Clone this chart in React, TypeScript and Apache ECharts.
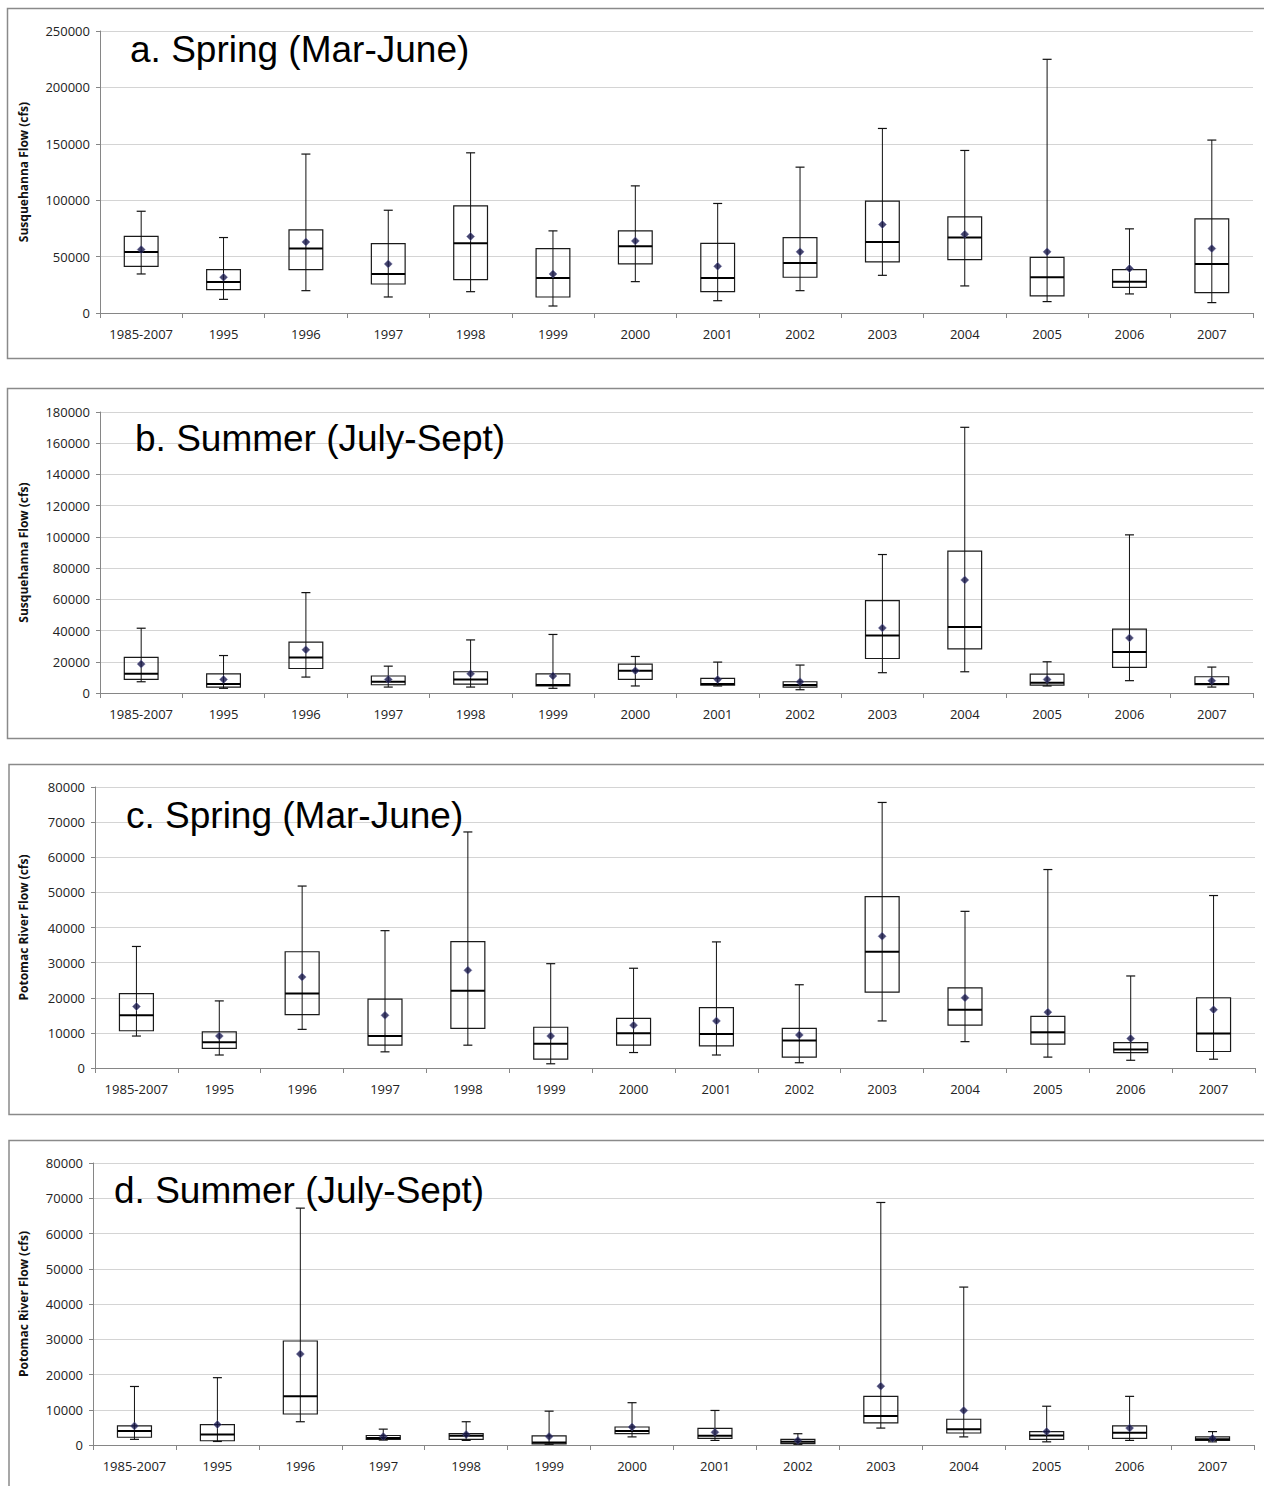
import React, { useEffect, useRef } from "react";
import * as echarts from "echarts";

const categories = ["1985-2007", "1995", "1996", "1997", "1998", "1999", "2000", "2001", "2002", "2003", "2004", "2005", "2006", "2007"];

// a. Susquehanna spring
const aMin = [34600, 12100, 19800, 14200, 18900, 6200, 27800, 10900, 19800, 33400, 24000, 10100, 16900, 9200];
const aQ1 = [41400, 20700, 38500, 25700, 29600, 14200, 43500, 18900, 31700, 45300, 47300, 15100, 22800, 18000];
const aMed = [54100, 27500, 57100, 34600, 61800, 31100, 59200, 31100, 44400, 63000, 66900, 31700, 27800, 43500];
const aQ3 = [68000, 38500, 73700, 61500, 95000, 57100, 72800, 61800, 66900, 99100, 85200, 49400, 38500, 83400];
const aMax = [90200, 66900, 140900, 91100, 142000, 72800, 112700, 97100, 129300, 163600, 144100, 224900, 74600, 153300];
const aMean = [56200, 31700, 63000, 43500, 67800, 34600, 63900, 41400, 54200, 78400, 69800, 54200, 39400, 57100];

// b. Susquehanna summer
const bMin = [7200, 3000, 10200, 3800, 3800, 3000, 4500, 4500, 2100, 13000, 13600, 4500, 7900, 3800];
const bQ1 = [8700, 3800, 15700, 5300, 5700, 4500, 8700, 5100, 3800, 22100, 28300, 5100, 16400, 5300];
const bMed = [12300, 5700, 22800, 7200, 8700, 5100, 14300, 5700, 5100, 36800, 42300, 6600, 26200, 5700];
const bQ3 = [22800, 12300, 32600, 10900, 13600, 12300, 18500, 9400, 7200, 59200, 90900, 12100, 40900, 10400];
const bMax = [41500, 24000, 64300, 17200, 34000, 37500, 23400, 19800, 17900, 88700, 170200, 20000, 101300, 16600];
const bMean = [18500, 8700, 27700, 8700, 12300, 10900, 14300, 8700, 7200, 41700, 72400, 8700, 35300, 7900];

// c. Potomac spring
const cMin = [9100, 3700, 11000, 4600, 6500, 1200, 4400, 3700, 1500, 13400, 7500, 3100, 2200, 2500];
const cQ1 = [10600, 5600, 15200, 6500, 11300, 2500, 6500, 6300, 3100, 21600, 12200, 6800, 4400, 4700];
const cMed = [15000, 7300, 21200, 9100, 22000, 6900, 9900, 9700, 7800, 33100, 16600, 10200, 5300, 9800];
const cQ3 = [21200, 10300, 33100, 19600, 36000, 11600, 14100, 17200, 11300, 48800, 22800, 14700, 7200, 20000];
const cMax = [34600, 19100, 51800, 39100, 67200, 29700, 28400, 35900, 23700, 75600, 44600, 56500, 26200, 49100];
const cMean = [17500, 9100, 25900, 15000, 27800, 9100, 12200, 13400, 9400, 37500, 20000, 15900, 8400, 16600];

// d. Potomac summer
const dMin = [1600, 1000, 6600, 1400, 1300, 200, 2300, 1300, 200, 4800, 2300, 900, 1300, 900];
const dQ1 = [2200, 1200, 8800, 1600, 1600, 300, 3200, 1900, 400, 6300, 3400, 1600, 1900, 1300];
const dMed = [4000, 3000, 13800, 2000, 2600, 700, 4000, 2600, 900, 8200, 4500, 2700, 3500, 1600];
const dQ3 = [5400, 5800, 29500, 2700, 3200, 2600, 5100, 4700, 1600, 13800, 7300, 3800, 5400, 2300];
const dMax = [16600, 19100, 67200, 4500, 6600, 9600, 12000, 9800, 3200, 68800, 44800, 11000, 13800, 3800];
const dMean = [5400, 5800, 25800, 2400, 3000, 2400, 5100, 3600, 1300, 16700, 9800, 3800, 4800, 1900];

const titles = ["a. Spring (Mar-June)", "b. Summer (July-Sept)", "c. Spring (Mar-June)", "d. Summer (July-Sept)"];
const yNames = ["Susquehanna Flow (cfs)", "Susquehanna Flow (cfs)", "Potomac River Flow (cfs)", "Potomac River Flow (cfs)"];
const yMaxes = [250000, 180000, 80000, 80000];
const yIntervals = [50000, 20000, 10000, 10000];

const panels = [
  { min: aMin, q1: aQ1, med: aMed, q3: aQ3, max: aMax, mean: aMean },
  { min: bMin, q1: bQ1, med: bMed, q3: bQ3, max: bMax, mean: bMean },
  { min: cMin, q1: cQ1, med: cMed, q3: cQ3, max: cMax, mean: cMean },
  { min: dMin, q1: dQ1, med: dMed, q3: dQ3, max: dMax, mean: dMean },
];

// layout
const grids = [
  { left: 100, top: 31, width: 1153, height: 282 },
  { left: 100, top: 412, width: 1153, height: 281 },
  { left: 95, top: 787, width: 1160, height: 281 },
  { left: 93, top: 1163, width: 1161, height: 282 },
];
const frames = [
  { x: 7.5, y: 8.5, h: 350 },
  { x: 7.5, y: 388.5, h: 350 },
  { x: 9, y: 764.5, h: 350 },
  { x: 9, y: 1140.5, h: 400 },
];
const titlePos = [
  { x: 130, y: 49 },
  { x: 135, y: 438 },
  { x: 126, y: 815 },
  { x: 114, y: 1190 },
];
const nameGaps = [71, 71, 66, 64];

const AXIS_FONT = "'Open Sans', 'Noto Sans', sans-serif";

function renderBox(params: any, api: any) {
  const i = api.value(0);
  const pMin = api.coord([i, api.value(1)]);
  const x = pMin[0];
  const yMin = pMin[1];
  const yQ1 = api.coord([i, api.value(2)])[1];
  const yMed = api.coord([i, api.value(3)])[1];
  const yQ3 = api.coord([i, api.value(4)])[1];
  const yMax = api.coord([i, api.value(5)])[1];
  const bw = api.size([1, 0])[0] * 0.41;
  const cap = 4.5;
  return {
    type: "group",
    children: [
      {
        type: "rect",
        shape: { x: x - bw / 2, y: yQ3, width: bw, height: yQ1 - yQ3 },
        style: { fill: "none", stroke: "#1a1a1a", lineWidth: 1.2 },
      },
      {
        type: "line",
        shape: { x1: x, y1: yMax, x2: x, y2: yMin },
        style: { stroke: "#111", lineWidth: 1 },
      },
      {
        type: "line",
        shape: { x1: x - cap, y1: yMax, x2: x + cap, y2: yMax },
        style: { stroke: "#111", lineWidth: 1.2 },
      },
      {
        type: "line",
        shape: { x1: x - cap, y1: yMin, x2: x + cap, y2: yMin },
        style: { stroke: "#111", lineWidth: 1.2 },
      },
      {
        type: "line",
        shape: { x1: x - bw / 2, y1: yMed, x2: x + bw / 2, y2: yMed },
        style: { stroke: "#000", lineWidth: 2 },
      },
    ],
  };
}

export default function App() {
  const ref = useRef<HTMLDivElement>(null);
  useEffect(() => {
    if (!ref.current) return;
    const chart = echarts.init(ref.current, null, { renderer: "svg" });

    const xAxis: any[] = [];
    const yAxis: any[] = [];
    const series: any[] = [];
    const graphic: any[] = [];

    panels.forEach((p, k) => {
      xAxis.push({
        type: "category",
        gridIndex: k,
        data: categories,
        boundaryGap: true,
        axisLine: { lineStyle: { color: "#868686", width: 1 } },
        axisTick: { show: true, length: 5, alignWithLabel: false, lineStyle: { color: "#868686" } },
        axisLabel: { interval: 0, margin: 14, fontSize: 13, color: "#222", fontFamily: AXIS_FONT },
        splitLine: { show: false },
      });
      yAxis.push({
        type: "value",
        gridIndex: k,
        min: 0,
        max: yMaxes[k],
        interval: yIntervals[k],
        axisLine: { show: true, lineStyle: { color: "#868686", width: 1 } },
        axisTick: { show: true, length: 4, lineStyle: { color: "#868686" } },
        axisLabel: {
          margin: 10,
          fontSize: 13,
          color: "#222",
          fontFamily: AXIS_FONT,
          formatter: (v: number) => String(v),
        },
        splitLine: { show: true, lineStyle: { color: "#d4d4d4", width: 1 } },
        name: yNames[k],
        nameLocation: "middle",
        nameGap: nameGaps[k],
        nameTextStyle: { fontSize: 12, fontWeight: "bold", color: "#111", fontFamily: AXIS_FONT },
      });
      const boxData = categories.map((c, i) => [i, p.min[i], p.q1[i], p.med[i], p.q3[i], p.max[i]]);
      series.push({
        type: "custom",
        xAxisIndex: k,
        yAxisIndex: k,
        renderItem: renderBox,
        encode: { x: 0, y: [1, 2, 3, 4, 5] },
        data: boxData,
        z: 3,
      });
      series.push({
        type: "scatter",
        xAxisIndex: k,
        yAxisIndex: k,
        symbol: "diamond",
        symbolSize: 8,
        itemStyle: { color: "#17174a", borderColor: "#6a6aa0", borderWidth: 0.6 },
        data: categories.map((c, i) => [i, p.mean[i]]),
        z: 5,
      });
      graphic.push({
        type: "rect",
        shape: { x: frames[k].x, y: frames[k].y, width: 1300, height: frames[k].h },
        style: { fill: "none", stroke: "#8a8a8a", lineWidth: 1.5 },
        z: 1,
        silent: true,
      });
      graphic.push({
        type: "text",
        x: titlePos[k].x,
        y: titlePos[k].y,
        style: {
          text: titles[k],
          fontSize: 37,
          fontFamily: "'Liberation Sans', Arial, sans-serif",
          fill: "#000",
          verticalAlign: "middle",
          align: "left",
        },
        z: 100,
        silent: true,
      });
    });

    chart.setOption({
      animation: false,
      backgroundColor: "#fff",
      grid: grids.map((g) => ({ ...g, containLabel: false })),
      xAxis,
      yAxis,
      series,
      graphic,
    });
    return () => chart.dispose();
  }, []);

  return (
    <div
      ref={ref}
      style={{ position: "absolute", left: 0, top: 0, width: 1264, height: 1486, background: "#fff" }}
    />
  );
}
